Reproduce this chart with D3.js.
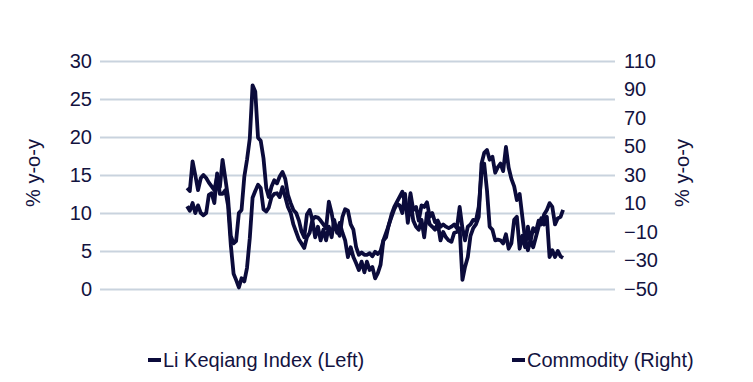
<!DOCTYPE html>
<html><head><meta charset="utf-8">
<script src="https://cdn.jsdelivr.net/npm/d3@7"></script>
<style>
body{margin:0;background:#fff;}
text{font-family:"Liberation Sans",Arial,sans-serif;fill:#13133f;}
</style></head>
<body><svg id="c" width="753" height="382"></svg>
<script>
// ---- data (monthly, y-o-y %) ----
const startMonth = "2007-09";
const liKeqiang = [13.3,12.9,16.8,15.0,13.0,14.6,15.0,14.6,14.0,13.5,13.0,14.8,13.4,17.0,14.5,12.0,7.0,6.0,6.3,10.0,
10.4,14.8,17.0,19.8,26.8,26.0,19.9,19.5,17.2,13.3,12.1,13.5,14.3,13.9,14.8,15.4,14.5,12.4,11.3,10.4,
10.0,9.0,7.6,6.8,9.8,10.4,9.1,9.5,9.4,9.0,8.5,8.0,11.5,10.0,8.0,7.8,7.0,9.5,10.5,10.3,
8.5,7.8,5.5,4.5,4.8,4.5,4.5,4.7,4.3,4.9,4.6,5.0,6.4,7.4,8.4,9.8,10.8,11.5,12.1,12.8,
11.3,10.0,12.6,10.4,10.8,9.0,11.0,10.8,11.4,9.5,10.0,8.8,9.0,8.2,8.5,8.2,8.0,8.2,8.5,8.0,
10.8,8.0,6.4,8.2,8.5,9.1,9.0,10.8,15.3,16.5,13.0,8.2,7.8,6.4,6.5,6.4,6.0,7.2,5.3,6.0,
9.1,9.5,5.3,7.0,5.5,8.2,6.2,8.0,7.5,9.0,8.5,9.8,10.4,11.3,10.8,8.5,9.3,9.5,10.4];
const commodity = [8.1,4.9,10.3,3.3,8.7,3.3,1.7,3.3,16.1,17.2,10.3,31.1,16.7,16.7,19.3,8.7,-19.1,-39.3,-43.6,-48.9,
-42.5,-44.7,-35.1,-14.3,14.0,18.8,23.1,20.9,6.0,4.4,7.1,14.5,16.7,17.2,14.5,21.5,14.5,7.6,3.3,-4.7,
-10.0,-15.3,-18.0,-21.2,-13.7,-10.5,-1.5,-13.7,-6.3,-15.9,-8.4,-15.9,-6.3,-13.7,-1.5,-10.5,-3.6,-10.5,-15.9,-27.6,
-20.7,-27.6,-31.9,-36.7,-30.8,-38.3,-30.8,-36.7,-34.5,-42.5,-38.8,-32.9,-15.9,-13.7,-4.7,0.7,6.0,9.7,8.7,3.3,
16.7,-3.6,11.3,-2.0,-6.3,-8.4,-1.5,-13.7,3.3,-4.7,-6.3,-8.4,-3.6,-15.9,-10.0,-13.7,-15.9,-16.9,-10.5,-10.0,
-7.3,-43.6,-34.5,-27.6,-12.7,-7.3,-4.7,0.7,38.0,45.5,47.6,40.7,42.8,31.6,35.3,38.0,32.7,49.7,35.3,27.3,
22.0,12.4,16.7,0.7,-15.3,-22.8,-15.9,-20.7,-13.7,-6.3,-0.4,-4.7,0.7,-27.6,-22.8,-27.6,-23.3,-27.1,-28.1];
const leftTicks = [0,5,10,15,20,25,30];
const rightTicks = [-50,-30,-10,10,30,50,70,90,110];
const seriesNames = ["Li Keqiang Index (Left)","Commodity (Right)"];
const axisTitle = "% y-o-y";

// ---- layout ----
const svg = d3.select("#c");
const m = {l:100, r:615, t:61, b:289};
const lineColor = "#0b0b3b", gridColor = "#c9d3de", textColor = "#13133f";
const fs = 20;

const parse = d3.timeParse("%Y-%m");
const t0 = parse(startMonth);
const dates = liKeqiang.map((d,i)=>d3.timeMonth.offset(t0,i));

const x = d3.scaleTime().domain([parse("2005-01"), parse("2020-10")]).range([m.l, m.r]);
const yL = d3.scaleLinear().domain([0,30]).range([m.b, m.t]);
const yR = d3.scaleLinear().domain([-50,110]).range([m.b, m.t]);

// gridlines
const grid = svg.append("g").attr("transform",`translate(${m.l},0)`)
  .call(d3.axisLeft(yL).tickValues(leftTicks).tickSize(-(m.r-m.l)).tickFormat(""));
grid.select(".domain").remove();
grid.selectAll("line").attr("stroke",gridColor).attr("stroke-width",1.8);

// left axis
const ax = svg.append("g").attr("transform",`translate(${m.l-8},0)`)
  .call(d3.axisLeft(yL).tickValues(leftTicks).tickSize(0).tickPadding(0));
ax.select(".domain").remove();
ax.selectAll("text").attr("font-size",fs).style("fill",textColor);

// right axis
const ar = svg.append("g").attr("transform",`translate(${m.r+9},0)`)
  .call(d3.axisRight(yR).tickValues(rightTicks).tickSize(0).tickPadding(0));
ar.select(".domain").remove();
ar.selectAll("text").attr("font-size",fs).style("fill",textColor);

svg.selectAll(".tick text").attr("font-family","Liberation Sans, Arial, sans-serif");

// axis titles
svg.append("text").attr("transform",`translate(40,${(m.t+m.b)/2-2}) rotate(-90)`)
  .attr("text-anchor","middle").attr("font-size",fs).text(axisTitle);
svg.append("text").attr("transform",`translate(689,${(m.t+m.b)/2-2}) rotate(-90)`)
  .attr("text-anchor","middle").attr("font-size",fs).text(axisTitle);

// lines
const lineL = d3.line().x((d,i)=>x(dates[i])).y(d=>yL(d)).curve(d3.curveLinear);
const lineR = d3.line().x((d,i)=>x(dates[i])).y(d=>yR(d)).curve(d3.curveLinear);
svg.append("path").datum(commodity).attr("d",lineR)
  .attr("fill","none").attr("stroke",lineColor).attr("stroke-width",3.8).attr("stroke-linejoin","round");
svg.append("path").datum(liKeqiang).attr("d",lineL)
  .attr("fill","none").attr("stroke",lineColor).attr("stroke-width",3.8).attr("stroke-linejoin","round");

// legend
const legX = [148, 512];
seriesNames.forEach((n,i)=>{
  const g = svg.append("g").attr("transform",`translate(${legX[i]},360)`);
  g.append("line").attr("x1",0).attr("x2",13).attr("y1",0).attr("y2",0)
    .attr("stroke",lineColor).attr("stroke-width",4);
  g.append("text").attr("x",15).attr("y",0).attr("dy","0.35em").attr("font-size",fs).text(n);
});
</script></body></html>
